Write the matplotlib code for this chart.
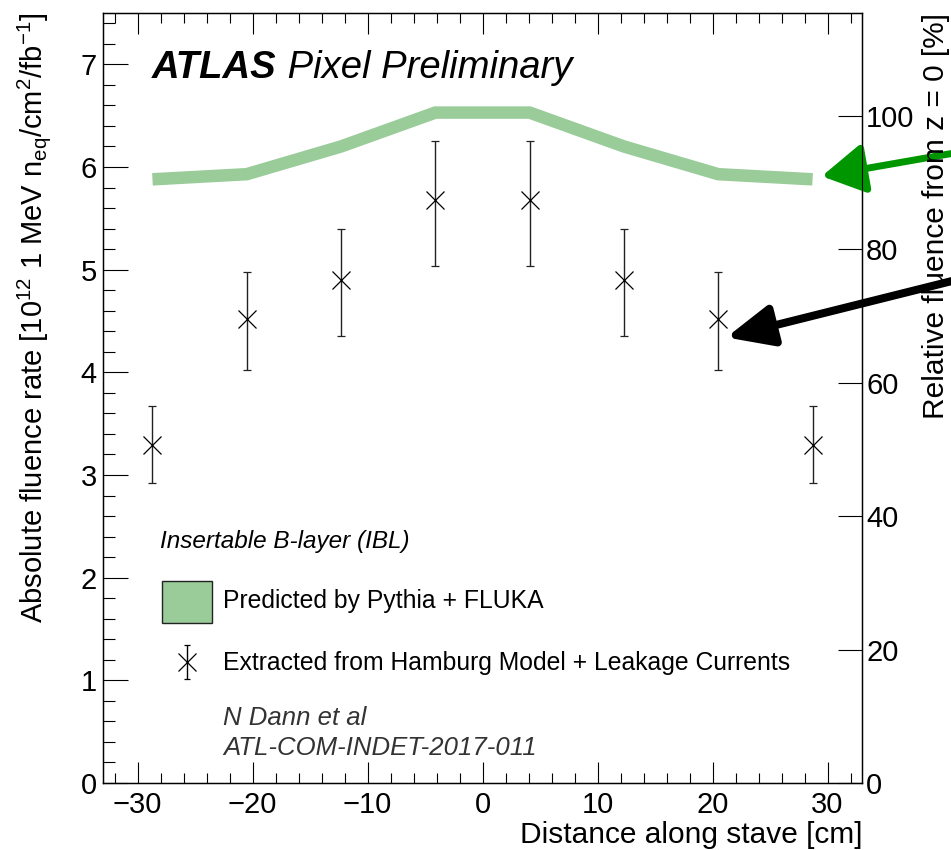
import matplotlib
matplotlib.use('Agg')
import matplotlib.pyplot as plt
from matplotlib.patches import Rectangle
from matplotlib.ticker import MultipleLocator, NullLocator

plt.rcParams['font.family'] = ['Liberation Sans', 'DejaVu Sans']
plt.rcParams['mathtext.fontset'] = 'custom'
plt.rcParams['mathtext.rm'] = 'Liberation Sans'
plt.rcParams['mathtext.it'] = 'Liberation Sans:italic'
plt.rcParams['mathtext.bf'] = 'Liberation Sans:bold'

# ---------------- data ----------------
positions = [-28.7, -20.5, -12.3, -4.1, 4.1, 12.3, 20.5, 28.7]
predicted = [5.88, 5.93, 6.20, 6.53, 6.53, 6.20, 5.93, 5.88]
extracted = [3.29, 4.52, 4.90, 5.68, 5.68, 4.90, 4.52, 3.29]
err_up = [0.38, 0.46, 0.50, 0.57, 0.57, 0.50, 0.46, 0.38]
err_down = [0.37, 0.50, 0.55, 0.64, 0.64, 0.55, 0.50, 0.37]
x_ticks = [-30, -20, -10, 0, 10, 20, 30]
y_ticks = [0, 1, 2, 3, 4, 5, 6, 7]
rel_ticks = [0, 20, 40, 60, 80, 100]
ref_value = 6.5  # absolute fluence rate corresponding to 100 %

pred_color = '#99cc99'

fig = plt.figure(figsize=(9.51, 8.5), dpi=100)
ax = fig.add_axes([103 / 951, 67 / 850, 759 / 951, 770 / 850])

ax.plot(positions, predicted, color=pred_color, lw=9, solid_capstyle='butt',
        solid_joinstyle='miter', zorder=2)
ax.errorbar(positions, extracted, yerr=[err_down, err_up], fmt='x', color='black',
            ms=13, mew=0.9, elinewidth=1.0, ecolor='#222222', capsize=3, capthick=1.0,
            zorder=3)

ax.set_xlim(-33, 33)
ax.set_ylim(0, 7.5)
ax.set_xticks(x_ticks)
ax.set_yticks(y_ticks)
ax.xaxis.set_minor_locator(MultipleLocator(2))
ax.yaxis.set_minor_locator(MultipleLocator(0.2))
ax.tick_params(which='both', direction='in', top=True, right=False, labelsize=21, width=0.8)
ax.tick_params(axis='x', which='major', length=15, pad=6)
ax.tick_params(axis='x', which='minor', length=7.5)
ax.tick_params(axis='y', which='major', length=18, pad=4.5)
ax.tick_params(axis='y', which='minor', length=8.6)
for s in ax.spines.values():
    s.set_linewidth(1.0)

ax2 = ax.twinx()
ax2.set_ylim(0, 7.5 / ref_value * 100)
ax2.set_yticks(rel_ticks)
ax2.yaxis.set_minor_locator(NullLocator())
ax2.tick_params(direction='in', length=17, width=0.8, labelsize=21, pad=3)

# axis labels
ax.set_xlabel('Distance along stave [cm]', fontsize=21.5)
ax.xaxis.set_label_coords(1.0, (783 - 843) / 770)
ax.xaxis.label.set_horizontalalignment('right')
ax.xaxis.label.set_verticalalignment('baseline')

ax.set_ylabel(r'Absolute fluence rate [10$^{\mathrm{12}}$ 1 MeV n$_{\mathrm{eq}}$/cm$^{\mathrm{2}}$/fb$^{\mathrm{-1}}$]',
              fontsize=21)
ax.yaxis.set_label_coords((42 - 103) / 759, 1.0)
ax.yaxis.label.set_rotation_mode('anchor')
ax.yaxis.label.set_horizontalalignment('right')
ax.yaxis.label.set_verticalalignment('baseline')

ax2.set_ylabel('Relative fluence from z = 0 [%]', fontsize=21.5, rotation=90)
ax2.yaxis.set_label_coords((944 - 103) / 759, 1.0)
ax2.yaxis.label.set_rotation_mode('anchor')
ax2.yaxis.label.set_horizontalalignment('right')
ax2.yaxis.label.set_verticalalignment('baseline')

# ATLAS label
t1 = ax.text((152 - 103) / 759, (783 - 78) / 770, 'ATLAS', transform=ax.transAxes,
             fontsize=27.5, fontweight='bold', fontstyle='italic', va='baseline', ha='left')
ax.annotate(' Pixel Preliminary', xy=(1, 0), xycoords=t1, fontsize=27.5,
            fontstyle='italic', va='bottom', ha='left')

# legend (manual, ROOT style)
def ax_xy(px, py):
    return (px - 103) / 759, (783 - py) / 770

ax.text(*ax_xy(160, 548), 'Insertable B-layer (IBL)', transform=ax.transAxes,
        fontsize=17.5, fontstyle='italic', va='baseline', ha='left')
bx0, by0 = ax_xy(162, 623)
ax.add_patch(Rectangle((bx0, by0), 50 / 759, 42 / 770, transform=ax.transAxes,
                       facecolor=pred_color, edgecolor='#222222', lw=1.0, clip_on=False))
ax.text(*ax_xy(223, 608), 'Predicted by Pythia + FLUKA', transform=ax.transAxes,
        fontsize=17.8, va='baseline', ha='left')
mx, my = ax_xy(187, 662)
ax.errorbar([mx], [my], yerr=[[17 / 770], [17 / 770]], fmt='x', color='black', ms=13,
            mew=0.9, elinewidth=1.0, capsize=2.5, capthick=1.0,
            transform=ax.transAxes, clip_on=False)
ax.text(*ax_xy(223, 670), 'Extracted from Hamburg Model + Leakage Currents',
        transform=ax.transAxes, fontsize=17.8, va='baseline', ha='left')
ax.text(*ax_xy(223, 725), 'N Dann et al', transform=ax.transAxes, fontsize=18.5,
        fontstyle='italic', color='#333333', va='baseline', ha='left')
ax.text(*ax_xy(223, 755), 'ATL-COM-INDET-2017-011', transform=ax.transAxes,
        fontsize=18.5, fontstyle='italic', color='#333333', va='baseline', ha='left')

# arrows pointing to the curves
ax.annotate('', xy=(29.5, 5.91), xycoords='data', xytext=(1000 / 951, (850 - 145) / 850),
            textcoords='figure fraction', annotation_clip=False,
            arrowprops=dict(arrowstyle='-|>,head_length=26,head_width=15', mutation_scale=1,
                            color='#009600', lw=5, shrinkA=0, shrinkB=0))
ax.annotate('', xy=(21.2, 4.34), xycoords='data', xytext=(1000 / 951, (850 - 269) / 850),
            textcoords='figure fraction', annotation_clip=False,
            arrowprops=dict(arrowstyle='-|>,head_length=28,head_width=12.5', mutation_scale=1,
                            color='black', lw=5.8, shrinkA=0, shrinkB=0))

ax.set_xlim(-33, 33)
ax.set_ylim(0, 7.5)

fig.savefig('out.png', dpi=100)
